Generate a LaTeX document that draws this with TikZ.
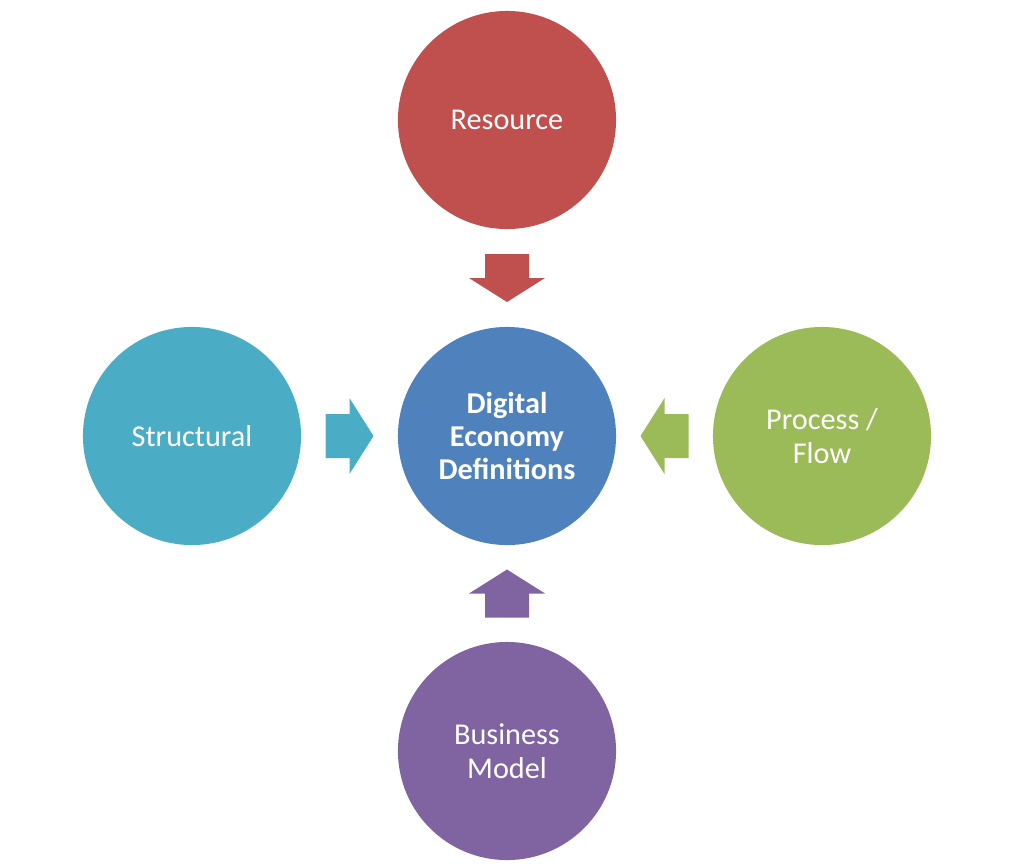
\documentclass[tikz,border=0pt]{standalone}
\usepackage{fontspec}
\setmainfont{Carlito}
\usepackage{xcolor}
\usepackage{tikz}
\usetikzlibrary{calc, positioning}

\definecolor{resred}{HTML}{C0504D}
\definecolor{defblue}{HTML}{4F81BD}
\definecolor{flowgreen}{HTML}{9BBB59}
\definecolor{bizpurple}{HTML}{8064A2}
\definecolor{strcyan}{HTML}{4BACC6}

\begin{document}
\begin{tikzpicture}[x=0.01cm, y=-0.01cm,
    bubble/.style={circle, draw=none, minimum size=2.18cm, inner sep=0pt,
        text=white, align=center, font=\fontsize{8.6}{9.5}\selectfont},
    blockarrow/.pic={\fill (-24,-22) -- (0,-22) -- (0,-38) -- (24,0) -- (0,38) -- (0,22) -- (-24,22) -- cycle;}]

    \useasboundingbox (0,0) rectangle (1027,863);

    % =================================================================
    % 1. CÁC VÒNG TRÒN
    % =================================================================
    \node[bubble, fill=defblue, font=\fontsize{8.6}{9.5}\selectfont\bfseries] (ddef) at (507,436) {Digital\\Economy\\Definitions};
    \node[bubble, fill=resred] (res) at (507,120) {Resource};
    \node[bubble, fill=strcyan] (str) at (192,436) {Structural};
    \node[bubble, fill=flowgreen] (flow) at (822,436) {Process /\\Flow};
    \node[bubble, fill=bizpurple] (biz) at (507,751) {Business\\Model};

    % =================================================================
    % 2. CÁC MŨI TÊN KHỐI
    % =================================================================
    \coordinate (a1) at ($(res.south)!0.5!(ddef.north)$);
    \coordinate (a2) at ($(str.east)!0.5!(ddef.west)$);
    \coordinate (a3) at ($(flow.west)!0.5!(ddef.east)$);
    \coordinate (a4) at ($(biz.north)!0.5!(ddef.south)$);

    \pic[resred, rotate=-90] at (a1) {blockarrow};
    \pic[strcyan] at (a2) {blockarrow};
    \pic[flowgreen, rotate=180] at (a3) {blockarrow};
    \pic[bizpurple, rotate=90] at (a4) {blockarrow};

\end{tikzpicture}
\end{document}
